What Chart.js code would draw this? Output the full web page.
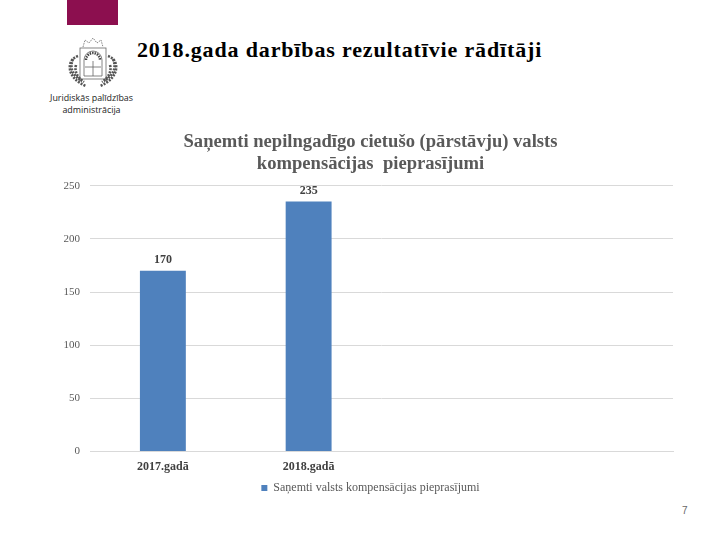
<!DOCTYPE html>
<html><head><meta charset="utf-8">
<style>
html,body{margin:0;padding:0;background:#fff;width:720px;height:540px;overflow:hidden;position:relative}
canvas{position:absolute;left:0;top:0}
.t{position:absolute;white-space:nowrap;color:#000}
#band{position:absolute;left:67px;top:0;width:51px;height:25px;background:#8c0f4f}
</style>
<script src="https://cdn.jsdelivr.net/npm/chart.js@4"></script>
</head><body>
<div id="band"></div>
<svg style="position:absolute;left:62px;top:34px" width="60" height="56" viewBox="0 0 60 56">
 <g fill="none" stroke="#666" stroke-width="0.8">
  <path d="M21 13 L23 6 L27 9 L31 4 L35 9 L39 6 L41 13" stroke-dasharray="1.5 1"/>
  <rect x="18" y="14" width="26" height="31"/>
  <path d="M22 42 V26 A9 9 0 0 1 40 26 V42 Z"/>
  <path d="M24 26 A7 7 0 0 1 38 26" stroke-width="2.5" stroke-dasharray="1.5 1" stroke="#444"/>
  <path d="M31 27 V42 M23 33 H39"/>
 </g>
 <g fill="none" stroke="#555" stroke-width="2.6" stroke-dasharray="2 1.2">
  <path d="M16 22 C4 26 4 44 24 52"/>
  <path d="M46 22 C58 26 58 44 38 52"/>
  <path d="M11 25 C7 34 11 42 20 47"/>
  <path d="M51 25 C55 34 51 42 42 47"/>
  <path d="M14 31 C12 38 16 44 22 48"/>
  <path d="M48 31 C50 38 46 44 40 48"/>
 </g>
</svg>
<div class="t" style="left:0;width:183px;top:92px;text-align:center;font:8.9px/12px 'Open Sans',sans-serif;color:#222">Juridiskās palīdzības<br>administrācija</div>
<div class="t" id="head" style="left:137px;top:37px;font:bold 22px/26px 'Liberation Serif',serif;letter-spacing:0.85px">2018.gada darbības rezultatīvie rādītāji</div>
<div class="t" style="left:682px;top:505px;font:10px/12px 'Liberation Sans',sans-serif;color:#666">7</div>
<canvas id="c" width="720" height="540"></canvas>
<script>
const categories = ['2017.gadā', '2018.gadā', '', ''];
const seriesName = 'Saņemti valsts kompensācijas pieprasījumi';
const seriesValues = [170, 235, null, null];
const yTicks = [0, 50, 100, 150, 200, 250];
const titleLines = ['Saņemti nepilngadīgo cietušo (pārstāvju) valsts', 'kompensācijas  pieprasījumi'];

const valueLabels = {
  id: 'valueLabels',
  afterLayout(chart) {
    chart.titleBlock.left = 68;
    chart.legend.left = 68;
  },
  afterDatasetsDraw(chart) {
    const ctx = chart.ctx, meta = chart.getDatasetMeta(0);
    ctx.save();
    ctx.font = "bold 12px 'Liberation Serif',serif";
    ctx.fillStyle = '#404040';
    ctx.textAlign = 'center';
    ctx.textBaseline = 'bottom';
    meta.data.forEach((el, i) => {
      if (seriesValues[i] != null) ctx.fillText(String(seriesValues[i]), el.x, el.y - 5);
    });
    ctx.restore();
  }
};

new Chart(document.getElementById('c'), {
  type: 'bar',
  data: {
    labels: categories,
    datasets: [{
      label: seriesName,
      data: seriesValues,
      backgroundColor: '#4f81bd',
      categoryPercentage: 1,
      barPercentage: 0.315
    }]
  },
  plugins: [valueLabels],
  options: {
    responsive: false,
    animation: false,
    devicePixelRatio: 1,
    layout: { padding: { left: 0, right: 47, top: 131, bottom: 36 } },
    plugins: {
      title: {
        display: true,
        text: titleLines,
        color: '#595959',
        font: { family: "'Liberation Serif',serif", size: 18.6, weight: 'bold', lineHeight: 1.2 },
        padding: { top: 0, bottom: 10 }
      },
      legend: {
        display: true,
        position: 'bottom',
        labels: {
          boxWidth: 6, boxHeight: 6, padding: 8,
          color: '#595959',
          font: { family: "'Liberation Serif',serif", size: 12 }
        }
      },
      tooltip: { enabled: false }
    },
    scales: {
      x: {
        grid: { display: false },
        border: { color: '#d9d9d9' },
        ticks: { color: '#404040', padding: 0, maxRotation: 0, autoSkip: false,
                 font: { family: "'Liberation Serif',serif", size: 12, weight: 'bold' } }
      },
      y: {
        min: 0, max: 250,
        afterFit(s) { s.width = 90; },
        afterBuildTicks(s) { s.ticks = yTicks.map(v => ({ value: v })); },
        grid: { color: '#d9d9d9', drawTicks: false },
        border: { display: false },
        ticks: { color: '#595959', padding: 10,
                 font: { family: "'Liberation Serif',serif", size: 11 } }
      }
    }
  }
});
</script>
</body></html>
